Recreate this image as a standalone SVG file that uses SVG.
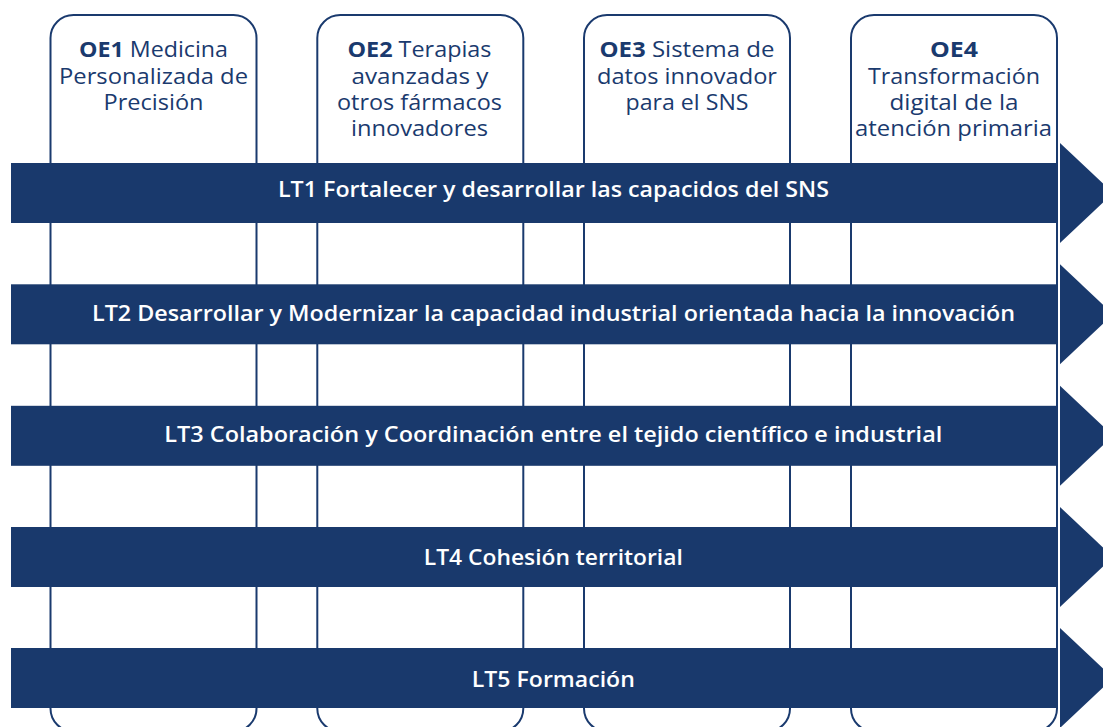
<svg xmlns="http://www.w3.org/2000/svg" width="1103" height="727" viewBox="0 0 1103 727">
<style>
.col{fill:#ffffff;stroke:#1a3a6e;stroke-width:2}
.bar{fill:#19396c}
.ot{font-family:"Open Sans","Liberation Sans",sans-serif;font-size:21px;font-weight:500;fill:#1a3a6e;text-anchor:middle}
.ot .b{font-weight:700}
.lt{font-family:"Open Sans","Liberation Sans",sans-serif;font-size:21px;font-weight:600;fill:#ffffff;text-anchor:middle}
</style>
<rect width="1103" height="727" fill="#ffffff"/>
<g id="oe1">
<rect class="col" x="50.5" y="15" width="206" height="716.5" rx="23"/>
<text class="ot" x="153.5" y="57" textLength="149" lengthAdjust="spacingAndGlyphs"><tspan class="b">OE1</tspan> Medicina</text>
<text class="ot" x="153.5" y="83.5" textLength="189" lengthAdjust="spacingAndGlyphs">Personalizada de</text>
<text class="ot" x="153.5" y="110" textLength="100" lengthAdjust="spacingAndGlyphs">Precisión</text>
</g>
<g id="oe2">
<rect class="col" x="317.3" y="15" width="206" height="716.5" rx="23"/>
<text class="ot" x="419.5" y="57" textLength="144" lengthAdjust="spacingAndGlyphs"><tspan class="b">OE2</tspan> Terapias</text>
<text class="ot" x="420" y="83.5" textLength="137" lengthAdjust="spacingAndGlyphs">avanzadas y</text>
<text class="ot" x="419.5" y="110" textLength="165" lengthAdjust="spacingAndGlyphs">otros fármacos</text>
<text class="ot" x="419.5" y="136" textLength="137" lengthAdjust="spacingAndGlyphs">innovadores</text>
</g>
<g id="oe3">
<rect class="col" x="584" y="15" width="206" height="716.5" rx="23"/>
<text class="ot" x="687" y="57" textLength="175" lengthAdjust="spacingAndGlyphs"><tspan class="b">OE3</tspan> Sistema de</text>
<text class="ot" x="687" y="83.5" textLength="180" lengthAdjust="spacingAndGlyphs">datos innovador</text>
<text class="ot" x="687" y="110" textLength="123" lengthAdjust="spacingAndGlyphs">para el SNS</text>
</g>
<g id="oe4">
<rect class="col" x="851" y="15" width="206" height="716.5" rx="23"/>
<text class="ot" x="954" y="57" textLength="48" lengthAdjust="spacingAndGlyphs"><tspan class="b">OE4</tspan></text>
<text class="ot" x="954" y="83.5" textLength="172" lengthAdjust="spacingAndGlyphs">Transformación</text>
<text class="ot" x="954" y="110" textLength="129" lengthAdjust="spacingAndGlyphs">digital de la</text>
<text class="ot" x="953.5" y="136" textLength="197" lengthAdjust="spacingAndGlyphs">atención primaria</text>
</g>
<g id="connectors">
<g id="lt1">
<rect class="bar" x="11" y="163" width="1046.5" height="60"/>
<polygon class="bar" points="1060,143 1113,193 1060,243"/>
<text class="lt" x="553.5" y="196.5" textLength="551" lengthAdjust="spacingAndGlyphs">LT1 Fortalecer y desarrollar las capacidos del SNS</text>
</g>
<g id="lt2">
<rect class="bar" x="11" y="284.3" width="1046.5" height="60"/>
<polygon class="bar" points="1060,264.3 1113,314.3 1060,364.3"/>
<text class="lt" x="553.5" y="320.5" textLength="923" lengthAdjust="spacingAndGlyphs">LT2 Desarrollar y Modernizar la capacidad industrial orientada hacia la innovación</text>
</g>
<g id="lt3">
<rect class="bar" x="11" y="405.8" width="1046.5" height="60"/>
<polygon class="bar" points="1060,385.8 1113,435.8 1060,485.8"/>
<text class="lt" x="553.3" y="442.3" textLength="778" lengthAdjust="spacingAndGlyphs">LT3 Colaboración y Coordinación entre el tejido científico e industrial</text>
</g>
<g id="lt4">
<rect class="bar" x="11" y="527" width="1046.5" height="60"/>
<polygon class="bar" points="1060,507 1113,557 1060,607"/>
<text class="lt" x="553.3" y="565" textLength="259" lengthAdjust="spacingAndGlyphs">LT4 Cohesión territorial</text>
</g>
<g id="lt5">
<rect class="bar" x="11" y="648" width="1046.5" height="60"/>
<polygon class="bar" points="1060,628 1113,678 1060,728"/>
<text class="lt" x="553.3" y="686.5" textLength="163" lengthAdjust="spacingAndGlyphs">LT5 Formación</text>
</g>
</g>
</svg>
